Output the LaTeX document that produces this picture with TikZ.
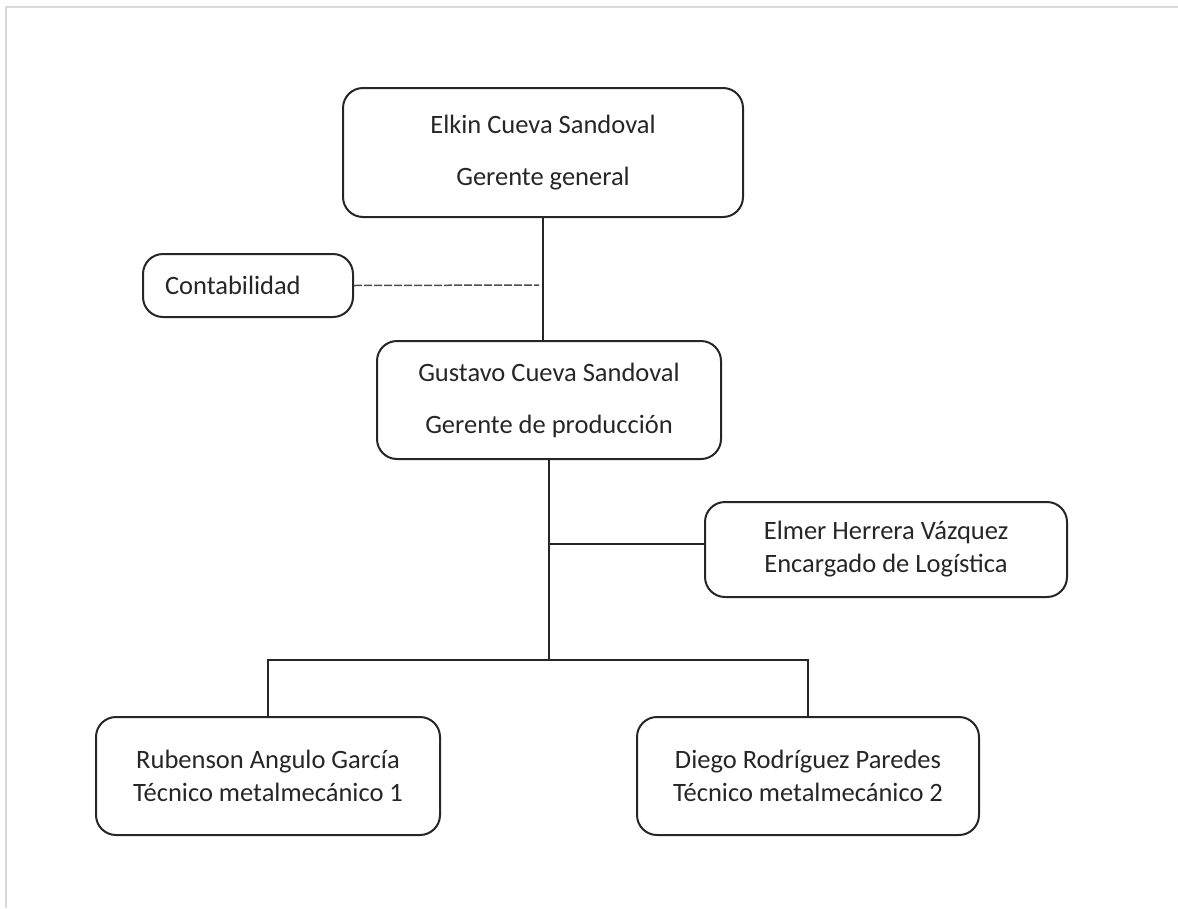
\documentclass[tikz,border=0pt]{standalone}
\usepackage{fontspec}
\setmainfont{Carlito}
\tikzset{
    puesto/.style={draw=black!85,line width=2pt,rounded corners=20pt,align=center,inner sep=0pt,text=black!85,font=\fontsize{26.5}{33}\selectfont},
    linea/.style={draw=black!85,line width=2pt},
    punteada/.style={draw=black!70,line width=1.5pt,dash pattern=on 8pt off 2pt},
    marco/.style={draw=black!15,line width=2pt}
}
\def\salto{19pt}

\begin{document}
\begin{tikzpicture}[x=1pt,y=-1pt]
  \useasboundingbox (0,0) rectangle (1178,908);
  % Marco
  \draw[marco] (6,908) -- (6,7) -- (1178,7);

  % Puestos
  \node[puesto,minimum width=400pt,minimum height=129pt] (gerente) at (543,152.5) {Elkin Cueva Sandoval\\[\salto]Gerente general};
  \node[puesto,minimum width=210pt,minimum height=63pt,text width=166pt,align=left] (contab) at (248,285.5) {Contabilidad};
  \node[puesto,minimum width=344pt,minimum height=118pt] (produccion) at (549,400) {Gustavo Cueva Sandoval\\[\salto]Gerente de producción};
  \node[puesto,minimum width=362pt,minimum height=95pt] (logistica) at (886,549.5) {Elmer Herrera Vázquez\\Encargado de Logística};
  \node[puesto,minimum width=344pt,minimum height=118pt] (tecnicoA) at (268,776) {Rubenson Angulo García\\Técnico metalmecánico 1};
  \node[puesto,minimum width=342pt,minimum height=118pt] (tecnicoB) at (808,776) {Diego Rodríguez Paredes\\Técnico metalmecánico 2};

  % Lineas
  \coordinate (contabfin) at (539,285);
  \coordinate (rama) at (549,544);
  \coordinate (reparto) at (549,660);
  \draw[linea] (gerente.south) -- (gerente.south |- produccion.north);
  \draw[punteada] (contab.east) -- (contabfin);
  \draw[linea] (produccion.south) -- (reparto);
  \draw[linea] (rama) -- (rama -| logistica.west);
  \draw[linea] (tecnicoA.north) -- (tecnicoA.north |- reparto) -- (tecnicoB.north |- reparto) -- (tecnicoB.north);
\end{tikzpicture}
\end{document}
